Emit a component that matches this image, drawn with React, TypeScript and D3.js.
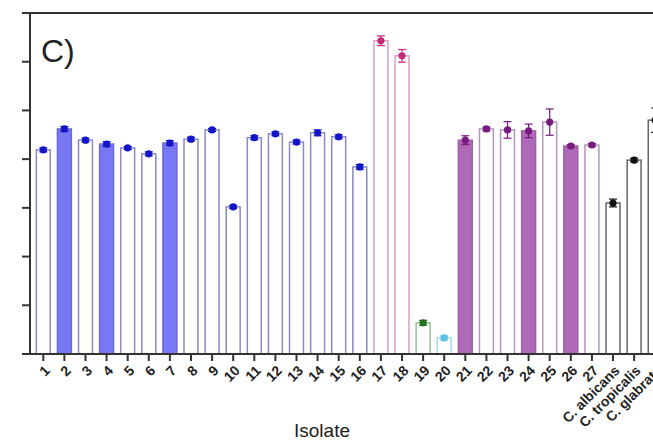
import React, { useEffect, useRef } from 'react';
import * as d3 from 'd3';

// isolates and species controls
const labels = [
  '1', '2', '3', '4', '5', '6', '7', '8', '9', '10',
  '11', '12', '13', '14', '15', '16', '17', '18', '19', '20',
  '21', '22', '23', '24', '25', '26', '27',
  'C. albicans', 'C. tropicalis', 'C. glabrata',
];
const values = [
  4.19, 4.62, 4.39, 4.31, 4.23, 4.11, 4.33, 4.41, 4.6, 3.02,
  4.44, 4.52, 4.35, 4.54, 4.46, 3.84, 6.43, 6.12, 0.64, 0.33,
  4.39, 4.62, 4.6, 4.58, 4.76, 4.27, 4.29,
  3.1, 3.98, 4.8,
];
const errors = [
  0.04, 0.05, 0.04, 0.05, 0.03, 0.04, 0.05, 0.04, 0.03, 0.03,
  0.04, 0.04, 0.04, 0.06, 0.04, 0.05, 0.1, 0.13, 0.05, 0.04,
  0.09, 0.04, 0.17, 0.14, 0.27, 0.03, 0.03,
  0.08, 0.04, 0.25,
];
// colour group of each bar
const groups = [
  'blue', 'blue', 'blue', 'blue', 'blue', 'blue', 'blue', 'blue', 'blue', 'blue',
  'blue', 'blue', 'blue', 'blue', 'blue', 'blue', 'pink', 'pink', 'green', 'cyan',
  'purple', 'purple', 'purple', 'purple', 'purple', 'purple', 'purple',
  'black', 'black', 'black',
];
const filled = ['2', '4', '7', '21', '24', '26'];
const yTicks = [1, 2, 3, 4, 5, 6];

const palette = {
  blue: { stroke: '#8a8ac4', fillStroke: '#6a6ad8', fill: '#7878f2', dot: '#1414c8' },
  pink: { stroke: '#dc9cc6', fillStroke: '#dc9cc6', fill: '#dc9cc6', dot: '#c82878' },
  green: { stroke: '#94c294', fillStroke: '#94c294', fill: '#94c294', dot: '#237323' },
  cyan: { stroke: '#a8d8f0', fillStroke: '#a8d8f0', fill: '#a8d8f0', dot: '#5cc0ea' },
  purple: { stroke: '#b496bc', fillStroke: '#9c64a4', fill: '#b068b8', dot: '#781a80' },
  black: { stroke: '#666666', fillStroke: '#444444', fill: '#444444', dot: '#111111' },
};

const App = () => {
  const svgRef = useRef(null);

  useEffect(() => {
    const width = 653;
    const height = 443;
    const svg = d3.select(svgRef.current);
    svg.selectAll('*').remove();

    const x = d3
      .scaleBand()
      .domain(labels)
      .range([32.1, 666.4])
      .paddingInner(0.34)
      .paddingOuter(0.2);
    const y = d3.scaleLinear().domain([0, 7]).range([354, 13]);

    const data = labels.map((l, i) => ({ label: l, value: values[i], err: errors[i], group: groups[i] }));

    // bars
    svg
      .append('g')
      .selectAll('rect')
      .data(data)
      .join('rect')
      .attr('x', (d) => x(d.label))
      .attr('y', (d) => y(d.value))
      .attr('width', x.bandwidth())
      .attr('height', (d) => y(0) - y(d.value))
      .attr('fill', (d) => (filled.includes(d.label) ? palette[d.group].fill : 'white'))
      .attr('stroke', (d) => (filled.includes(d.label) ? palette[d.group].fillStroke : palette[d.group].stroke))
      .attr('stroke-width', 1.5);

    // error bars
    const eb = svg.append('g').selectAll('g').data(data).join('g');
    eb.append('line')
      .attr('x1', (d) => x(d.label) + x.bandwidth() / 2)
      .attr('x2', (d) => x(d.label) + x.bandwidth() / 2)
      .attr('y1', (d) => y(d.value - d.err))
      .attr('y2', (d) => y(d.value + d.err))
      .attr('stroke', (d) => palette[d.group].dot)
      .attr('stroke-width', 1.2);
    [1, -1].forEach((s) => {
      eb.append('line')
        .attr('x1', (d) => x(d.label) + x.bandwidth() / 2 - 4)
        .attr('x2', (d) => x(d.label) + x.bandwidth() / 2 + 4)
        .attr('y1', (d) => y(d.value + s * d.err))
        .attr('y2', (d) => y(d.value + s * d.err))
        .attr('stroke', (d) => palette[d.group].dot)
        .attr('stroke-width', 1.2);
    });
    eb.append('circle')
      .attr('cx', (d) => x(d.label) + x.bandwidth() / 2)
      .attr('cy', (d) => y(d.value))
      .attr('r', 3.6)
      .attr('fill', (d) => palette[d.group].dot);

    // axes frame
    const axisColor = '#333';
    svg.append('line').attr('x1', 22).attr('x2', width).attr('y1', 13).attr('y2', 13)
      .attr('stroke', axisColor).attr('stroke-width', 2);
    svg.append('line').attr('x1', 22).attr('x2', width).attr('y1', 354).attr('y2', 354)
      .attr('stroke', axisColor).attr('stroke-width', 2);
    svg.append('line').attr('x1', 30).attr('x2', 30).attr('y1', 12).attr('y2', 355)
      .attr('stroke', axisColor).attr('stroke-width', 2);

    svg.append('g')
      .selectAll('line')
      .data(yTicks)
      .join('line')
      .attr('x1', 22)
      .attr('x2', 30)
      .attr('y1', (d) => y(d))
      .attr('y2', (d) => y(d))
      .attr('stroke', axisColor)
      .attr('stroke-width', 2);

    svg.append('g')
      .selectAll('line')
      .data(labels)
      .join('line')
      .attr('x1', (d) => x(d) + x.bandwidth() / 2)
      .attr('x2', (d) => x(d) + x.bandwidth() / 2)
      .attr('y1', 354)
      .attr('y2', 361)
      .attr('stroke', axisColor)
      .attr('stroke-width', 2);

    svg.append('g')
      .selectAll('text')
      .data(labels)
      .join('text')
      .attr('transform', (d) => `translate(${x(d) + x.bandwidth() / 2 + 4},${368}) rotate(-45)`)
      .attr('text-anchor', 'end')
      .attr('dy', '0.35em')
      .style('font', 'bold 14px "Liberation Sans", Arial, sans-serif')
      .attr('fill', '#222')
      .text((d) => d);

    svg.append('text')
      .attr('x', 322)
      .attr('y', 437)
      .attr('text-anchor', 'middle')
      .style('font', '19px "Liberation Sans", Arial, sans-serif')
      .attr('fill', '#222')
      .text('Isolate');

    svg.append('text')
      .attr('x', 41)
      .attr('y', 62)
      .style('font', '32px "Liberation Sans", Arial, sans-serif')
      .attr('fill', '#222')
      .text('C)');
  }, []);

  return (
    <svg
      ref={svgRef}
      width={653}
      height={443}
      style={{ position: 'absolute', left: 0, top: 0, background: 'white' }}
    />
  );
};

export default App;
